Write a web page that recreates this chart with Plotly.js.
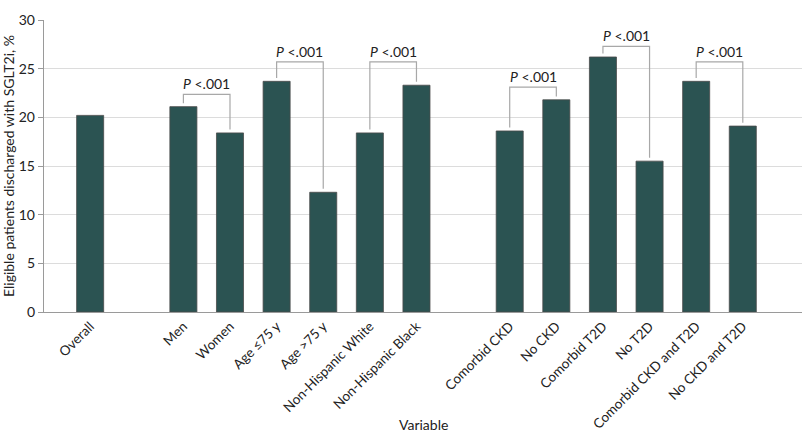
<!DOCTYPE html>
<html>
<head>
<meta charset="utf-8">
<script src="https://cdn.plot.ly/plotly-3.0.1.min.js"></script>
<style>html,body{margin:0;padding:0;background:#fff;}#chart{width:807px;height:443px;}</style>
</head>
<body>
<div id="chart"></div>
<script>
// Categories (blank entries are the gaps between groups)
var categories = ["Overall", " ", "Men", "Women", "Age ≤75 y", "Age >75 y", "Non-Hispanic White", "Non-Hispanic Black", "  ",
  "Comorbid CKD", "No CKD", "Comorbid T2D", "No T2D", "Comorbid CKD and T2D", "No CKD and T2D"];
var values = [20.2, null, 21.1, 18.4, 23.7, 12.3, 18.4, 23.3, null, 18.6, 21.8, 26.2, 15.5, 23.7, 19.1];

// Significance brackets: left category, right category, bracket height (%)
var bracketLeft = ["Men", "Age ≤75 y", "Non-Hispanic White", "Comorbid CKD", "Comorbid T2D", "Comorbid CKD and T2D"];
var bracketRight = ["Women", "Age >75 y", "Non-Hispanic Black", "No CKD", "No T2D", "No CKD and T2D"];
var bracketTop = [22.35, 25.7, 25.7, 23.1, 27.3, 25.7];
var bracketLabel = "<i>P</i> <.001";

(function () {
  var FONT = "Lato, 'Open Sans', sans-serif";
  var gap = 0.35;

  var shapes = [], annotations = [];
  for (var i = 0; i < bracketLeft.length; i++) {
    var a = categories.indexOf(bracketLeft[i]), b = categories.indexOf(bracketRight[i]);
    var yTop = bracketTop[i];
    shapes.push({type: "path", xref: "x", yref: "y",
      path: "M " + a + "," + (values[a] + gap) + " L " + a + "," + yTop + " L " + b + "," + yTop + " L " + b + "," + (values[b] + gap),
      line: {color: "#a8a8a8", width: 1.2}});
    annotations.push({x: (a + b) / 2, y: yTop, xref: "x", yref: "y", text: bracketLabel, showarrow: false,
      yanchor: "bottom", font: {family: FONT, size: 14, color: "#222"}});
  }
  // x-axis title (placed below the rotated tick labels)
  annotations.push({x: 0.5, y: -112 / 292, xref: "paper", yref: "paper", yanchor: "middle", xanchor: "center",
    text: "Variable", showarrow: false, font: {family: FONT, size: 14, color: "#222"}});

  var trace = {
    type: "bar", x: categories, y: values,
    marker: {color: "#2b5352", line: {color: "#4a4a4a", width: 0.8}},
    hoverinfo: "skip"
  };

  var layout = {
    width: 807, height: 443,
    margin: {l: 44, r: 5, t: 20, b: 131},
    paper_bgcolor: "#fff", plot_bgcolor: "#fff",
    bargap: 0.42,
    showlegend: false,
    font: {family: FONT, size: 13, color: "#222"},
    xaxis: {
      type: "category", range: [-0.99, 15.27], automargin: false,
      tickangle: -45, ticks: "", showgrid: false,
      showline: true, linecolor: "#9a9a9a", linewidth: 1.2,
      tickfont: {family: FONT, size: 13.5, color: "#222"}
    },
    yaxis: {
      range: [0, 30], tickvals: [0, 5, 10, 15, 20, 25, 30], automargin: false,
      ticks: "outside", ticklen: 5, tickcolor: "#9a9a9a",
      showline: true, linecolor: "#9a9a9a", linewidth: 1.2,
      gridcolor: "#dcdcdc", gridwidth: 1, zeroline: false,
      tickfont: {family: FONT, size: 14, color: "#222"},
      title: {text: "Eligible patients discharged with SGLT2i, %", font: {family: FONT, size: 14, color: "#222"}, standoff: 4}
    },
    shapes: shapes,
    annotations: annotations
  };

  Plotly.newPlot("chart", [trace], layout, {displayModeBar: false, staticPlot: true});
})();
</script>
</body>
</html>
